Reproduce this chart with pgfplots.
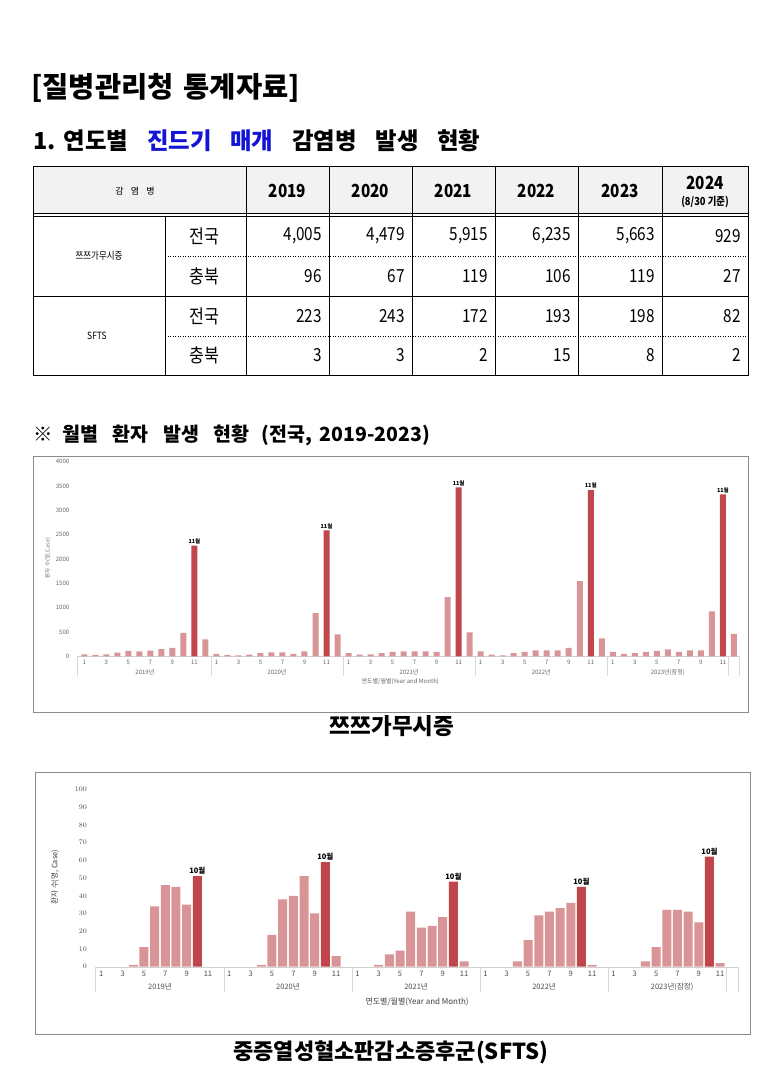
\documentclass[border=0pt]{standalone}
\usepackage{fontspec}
\setmainfont{Noto Sans CJK KR}
\newfontfamily\tnum[FakeStretch=0.85]{Noto Sans CJK KR}
\usepackage{pgfplots}
\pgfplotsset{compat=1.18}
\definecolor{barL}{RGB}{217,148,151}
\definecolor{barD}{RGB}{192,70,75}
\definecolor{hdr}{RGB}{242,242,242}
\definecolor{tblue}{RGB}{20,20,215}
\newcommand{\fs}[1]{\fontsize{#1}{#1}\selectfont}
\newcommand{\cellr}[3]{\node[anchor=east,inner sep=0] at (#1pt,-#2pt) {\tnum\fs{18}#3};}
\begin{document}
\begin{tikzpicture}
\path[use as bounding box, fill=white] (0pt,0pt) rectangle (780pt,-1080pt);
% ---------- titles ----------
\node[anchor=west, inner sep=0] at (31pt,-88pt) {\fs{28.5}\bfseries [질병관리청\hspace{0.35em}통계자료]};
\node[anchor=west, inner sep=0] at (33pt,-141pt) {\fs{23.4}\bfseries 1.\hspace{0.35em}연도별\hspace{0.8em}{\color{tblue}진드기\hspace{0.8em}매개}\hspace{0.8em}감염병\hspace{0.8em}발생\hspace{0.8em}현황};
% ---------- table ----------
\fill[hdr] (33pt,-166pt) rectangle (748pt,-214pt);
\draw[line width=0.6pt] (33pt,-213pt) -- (748pt,-213pt);
\draw[line width=0.6pt] (33pt,-216.5pt) -- (748pt,-216.5pt);
\draw[line width=0.6pt] (33pt,-296pt) -- (748pt,-296pt);
\draw[dotted, line width=0.5pt] (165pt,-256pt) -- (748pt,-256pt);
\draw[dotted, line width=0.5pt] (165pt,-336pt) -- (748pt,-336pt);
\foreach \cx in {246,329,412,495,578,662} {\draw[line width=0.6pt] (\cx pt,-166pt) -- (\cx pt,-375pt);}
\draw[line width=0.6pt] (165pt,-216.5pt) -- (165pt,-375pt);
\draw[line width=0.8pt] (33pt,-166pt) rectangle (748pt,-375pt);
\node[inner sep=0] at (135pt,-191pt) {\fs{9}감\hspace{0.8em}염\hspace{0.8em}병};
\foreach \cx/\yr in {287.5/2019,370.5/2020,453.5/2021,536.5/2022,620/2023} {\node[inner sep=0] at (\cx pt,-191pt) {\tnum\fs{18}\bfseries \yr};}
\node[inner sep=0] at (705pt,-183pt) {\tnum\fs{18}\bfseries 2024};
\node[inner sep=0] at (705pt,-202pt) {\tnum\fs{11}\bfseries (8/30 기준)};
\node[inner sep=0] at (99pt,-256pt) {\tnum\fs{10}쯔쯔가무시증};
\node[inner sep=0] at (97pt,-336pt) {\tnum\fs{10}SFTS};
\foreach \ry/\lab in {236/전국,276/충북,316/전국,355/충북} {\node[inner sep=0] at (204pt,-\ry pt) {\tnum\fs{19}\lab};}
\cellr{322}{236}{4,005}\cellr{405}{236}{4,479}\cellr{488}{236}{5,915}\cellr{571}{236}{6,235}\cellr{655}{236}{5,663}\cellr{741}{236}{929}
\cellr{322}{276}{96}\cellr{405}{276}{67}\cellr{488}{276}{119}\cellr{571}{276}{106}\cellr{655}{276}{119}\cellr{741}{276}{27}
\cellr{322}{316}{223}\cellr{405}{316}{243}\cellr{488}{316}{172}\cellr{571}{316}{193}\cellr{655}{316}{198}\cellr{741}{316}{82}
\cellr{322}{355}{3}\cellr{405}{355}{3}\cellr{488}{355}{2}\cellr{571}{355}{15}\cellr{655}{355}{8}\cellr{741}{355}{2}
% ---------- section header ----------
\node[anchor=west, inner sep=0] at (33pt,-435pt) {\fs{19.5}\bfseries ※\hspace{0.5em}월별\hspace{0.75em}환자\hspace{0.75em}발생\hspace{0.75em}현황\hspace{0.6em}(전국,\hspace{0.4em}2019-2023)};
% ---------- chart 1 ----------
\draw[black!45, line width=0.7pt] (33pt,-456pt) rectangle (748pt,-712pt);
\node[rotate=90, text=black!55, inner sep=0] at (48pt,-558pt) {\fs{5.5}환자 수(명, Case)};
\begin{axis}[at={(76.7pt,-656.3pt)}, anchor=south west,
  x=11.01pt, y=0.04865pt, xmin=0.31, xmax=60.5, ymin=0, ymax=4000,
  clip=false, axis lines=left, axis line style={-}, y axis line style={draw=none},
  x axis line style={draw=black!18}, major tick length=0pt,
  xtick={1,3,...,59},
  xticklabels={1,3,5,7,9,11,1,3,5,7,9,11,1,3,5,7,9,11,1,3,5,7,9,11,1,3,5,7,9,11},
  ytick={0,500,...,4000}, yticklabels={0,500,1000,1500,2000,2500,3000,3500,4000},
  xticklabel style={font=\fs{6}, text=black!60, yshift=-0.5pt},
  yticklabel style={font=\fs{6}, text=black!60, xshift=-4pt}]
\addplot[ybar, bar width=6pt, bar shift=0pt, fill=barL, draw=none] coordinates {
 (1,41)(2,27)(3,41)(4,75)(5,110)(6,103)(7,116)(8,150)(9,171)(10,480)(12,349)
 (13,48)(14,27)(15,20)(16,34)(17,68)(18,82)(19,82)(20,48)(21,103)(22,890)(24,452)
 (25,68)(26,34)(27,41)(28,68)(29,89)(30,103)(31,103)(32,103)(33,89)(34,1219)(36,493)
 (37,103)(38,34)(39,20)(40,68)(41,89)(42,123)(43,123)(44,123)(45,171)(46,1548)(48,370)
 (49,89)(50,48)(51,68)(52,89)(53,110)(54,144)(55,89)(56,123)(57,123)(58,925)(60,459)};
\addplot[ybar, bar width=6pt, bar shift=0pt, fill=barD, draw=none,
  nodes near coords={11월}, every node near coord/.style={font=\fs{5.5}\bfseries, inner sep=1.5pt, anchor=south}] coordinates {
 (11,2274)(23,2589)(35,3473)(47,3418)(59,3329)};
\pgfplotsinvokeforeach{0.31,12.5,24.5,36.5,48.5,59.5,60.5}{\draw[black!15] (axis cs:#1,0) -- ++(0pt,-20pt);}
\node[text=black!60, font=\fs{6}, inner sep=0] at (axis cs:6.5,0) [yshift=-16pt] {2019년};
\node[text=black!60, font=\fs{6}, inner sep=0] at (axis cs:18.5,0) [yshift=-16pt] {2020년};
\node[text=black!60, font=\fs{6}, inner sep=0] at (axis cs:30.5,0) [yshift=-16pt] {2021년};
\node[text=black!60, font=\fs{6}, inner sep=0] at (axis cs:42.5,0) [yshift=-16pt] {2022년};
\node[text=black!60, font=\fs{6}, inner sep=0] at (axis cs:54,0) [yshift=-16pt] {2023년(잠정)};
\node[text=black!60, font=\fs{6}, inner sep=0] at (axis cs:29.7,0) [yshift=-25pt] {연도별/월별(Year and Month)};
\end{axis}
\node[inner sep=0] at (392pt,-726pt) {\fs{22.5}\bfseries 쯔쯔가무시증};
% ---------- chart 2 ----------
\draw[black!45, line width=0.7pt] (35pt,-772pt) rectangle (750pt,-1034pt);
\node[rotate=90, text=black!75, inner sep=0] at (55pt,-877pt) {\fs{7.5}환자 수(명, Case)};
\begin{axis}[at={(95.3pt,-966.7pt)}, anchor=south west,
  x=10.67pt, y=1.774pt, xmin=0.44, xmax=60.7, ymin=0, ymax=100,
  clip=false, axis lines=left, axis line style={-}, y axis line style={draw=none},
  x axis line style={draw=black!18}, major tick length=0pt,
  xtick={1,3,...,59},
  xticklabels={1,3,5,7,9,11,1,3,5,7,9,11,1,3,5,7,9,11,1,3,5,7,9,11,1,3,5,7,9,11},
  ytick={0,10,...,100},
  xticklabel style={font=\fs{7.5}, text=black!70, yshift=-0.5pt},
  yticklabel style={font=\fs{7.5}, text=black!70, xshift=-5pt}]
\addplot[ybar, bar width=9pt, bar shift=0pt, fill=barL, draw=none] coordinates {
 (4,1)(5,11)(6,34)(7,46)(8,45)(9,35)
 (16,1)(17,18)(18,38)(19,40)(20,51)(21,30)(23,6)
 (27,1)(28,7)(29,9)(30,31)(31,22)(32,23)(33,28)(35,3)
 (40,3)(41,15)(42,29)(43,31)(44,33)(45,36)(47,1)
 (52,3)(53,11)(54,32)(55,32)(56,31)(57,25)(59,2)};
\addplot[ybar, bar width=9pt, bar shift=0pt, fill=barD, draw=none,
  nodes near coords={10월}, every node near coord/.style={font=\fs{7.5}\bfseries, inner sep=1.5pt, anchor=south}] coordinates {
 (10,51)(22,59)(34,48)(46,45)(58,62)};
\pgfplotsinvokeforeach{0.44,12.5,24.5,36.5,48.5,59.6,60.7}{\draw[black!15] (axis cs:#1,0) -- ++(0pt,-25pt);}
\node[text=black!70, font=\fs{7.5}, inner sep=0] at (axis cs:6.5,0) [yshift=-20pt] {2019년};
\node[text=black!70, font=\fs{7.5}, inner sep=0] at (axis cs:18.5,0) [yshift=-20pt] {2020년};
\node[text=black!70, font=\fs{7.5}, inner sep=0] at (axis cs:30.5,0) [yshift=-20pt] {2021년};
\node[text=black!70, font=\fs{7.5}, inner sep=0] at (axis cs:42.5,0) [yshift=-20pt] {2022년};
\node[text=black!70, font=\fs{7.5}, inner sep=0] at (axis cs:54.5,0) [yshift=-20pt] {2023년(잠정)};
\node[text=black!75, font=\fs{8}, inner sep=0] at (axis cs:30.6,0) [yshift=-35pt] {연도별/월별(Year and Month)};
\end{axis}
\node[inner sep=0] at (391pt,-1052pt) {\fs{22}\bfseries 중증열성혈소판감소증후군(SFTS)};
\end{tikzpicture}
\end{document}
